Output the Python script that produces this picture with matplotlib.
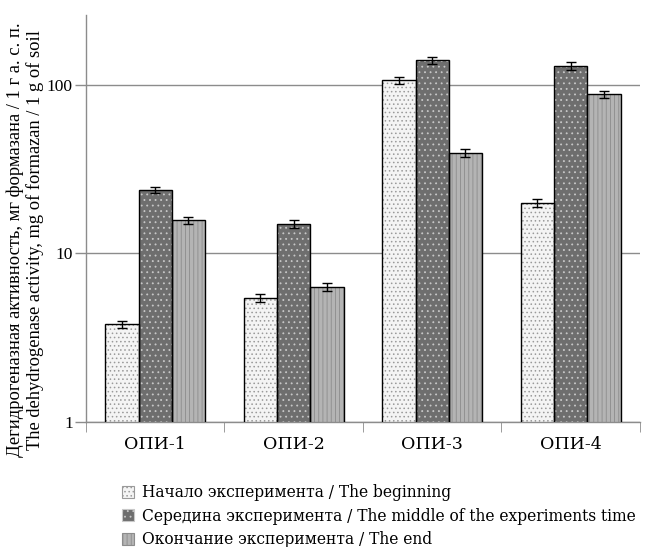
import numpy as np
import matplotlib.pyplot as plt
from matplotlib.patches import Patch

sites = ["ОПИ-1", "ОПИ-2", "ОПИ-3", "ОПИ-4"]
series_names = ["Начало эксперимента / The beginning",
                "Середина эксперимента / The middle of the experiments time",
                "Окончание эксперимента / The end"]
begin = [3.8, 5.45, 107, 20.0]
middle = [23.8, 14.9, 140, 129]
end = [15.7, 6.3, 39.5, 88]
begin_err = [0.2, 0.3, 5, 1.1]
middle_err = [1.1, 0.8, 7, 7]
end_err = [0.8, 0.35, 2.2, 4.5]

faces = ["#f4f4f4", "#6e6e6e", "#b4b4b4"]
dots = ["#9a9a9a", "#c8c8c8", "#8c8c8c"]
hatches = ["....", "...", "||||"]

plt.rcParams["hatch.linewidth"] = 0.6

fig = plt.figure(figsize=(6.51, 5.47), dpi=100)
ax = fig.add_axes([0.132, 0.2285, 0.851, 0.744])
ax.set_yscale("log")

x = np.arange(len(sites))
w = 0.24
for i, (vals, errs) in enumerate([(begin, begin_err), (middle, middle_err), (end, end_err)]):
    pos = x + (i - 1) * w
    ax.bar(pos, vals, w, color=faces[i], edgecolor=dots[i],
           hatch=hatches[i], linewidth=0, zorder=2)
    ax.bar(pos, vals, w, color="none", edgecolor="black",
           linewidth=1.0, zorder=3)
    ax.errorbar(pos, vals, yerr=errs, fmt="none", ecolor="black",
                elinewidth=1.0, capsize=3.5, capthick=1.0, zorder=4)

ax.set_ylim(1, 260)
ax.set_xlim(-0.5, 3.5)
ax.set_yticks([1, 10, 100])
ax.set_yticklabels(["1", "10", "100"], family="Liberation Serif", fontsize=12.5)
ax.minorticks_off()
ax.yaxis.grid(True, color="#8c8c8c", linewidth=1.0, zorder=0)
ax.set_axisbelow(True)

ax.set_xticks(x)
ax.set_xticklabels(sites, family="DejaVu Serif", fontsize=12.5)
ax.tick_params(axis="x", length=0, pad=10)
ax.set_xticks(np.arange(-0.5, 4.0, 1.0), minor=True)
ax.tick_params(axis="x", which="minor", length=7, color="#8c8c8c")
ax.tick_params(axis="y", length=8, color="#8c8c8c", width=1.0, pad=1.5)

for s in ["top", "right"]:
    ax.spines[s].set_visible(False)
for s in ["left", "bottom"]:
    ax.spines[s].set_color("#8c8c8c")
    ax.spines[s].set_linewidth(1.0)

ax.set_ylabel("Дегидрогеназная активность, мг формазана / 1 г а. с. п.\n"
              "The dehydrogenase activity, mg of formazan / 1 g of soil",
              family="Liberation Serif", fontsize=13.3, linespacing=1.2)
ax.yaxis.set_label_coords(-0.075, 0.447)

handles = [Patch(facecolor=faces[i], edgecolor=dots[i], hatch=hatches[i],
                 linewidth=0.8) for i in range(3)]
fig.legend(handles, series_names, loc="lower left", bbox_to_anchor=(0.17, -0.022),
           frameon=False, prop={"family": "DejaVu Serif", "size": 11.2},
           handlelength=0.8, handleheight=0.8, handletextpad=0.5,
           labelspacing=0.42, borderpad=0.2)

fig.savefig("out.png", dpi=100)
